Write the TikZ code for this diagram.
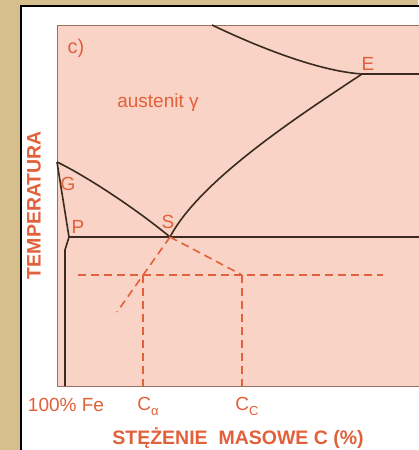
\documentclass[tikz,border=0pt]{standalone}
\usepackage{fontspec}
\setmainfont{Liberation Sans}
\definecolor{tan}{HTML}{D6BF8C}
\definecolor{pinkbg}{HTML}{F9D3C5}
\definecolor{curve}{HTML}{3B2A22}
\definecolor{lab}{HTML}{E2603A}
\definecolor{frame}{HTML}{9A7060}
\tikzset{
  phase/.style={draw=curve, line width=1.6pt},
  guide/.style={draw=lab, line width=1.6pt, dash pattern=on 8pt off 5pt},
  lbl/.style={text=lab, font=\fontsize{19}{21}\selectfont, inner sep=0pt},
  axislbl/.style={text=lab, font=\fontsize{19.5}{21}\selectfont\bfseries, inner sep=0pt},
}
\begin{document}
\begin{tikzpicture}[x=1pt,y=-1pt]
\useasboundingbox (0,0) rectangle (418,450);
\fill[tan] (0,0) rectangle (418,450);
\fill[white] (21,6) rectangle (420,452);
\draw[black, line width=2pt] (21,452) -- (21,6) -- (420,6);
\fill[pinkbg] (57,25) rectangle (420,386);
\draw[frame, line width=0.9pt] (420,25) -- (57,25) -- (57,386) -- (420,386);
% key points
\coordinate (T) at (212,25);
\coordinate (E) at (362,74);
\coordinate (Er) at (420,74);
\coordinate (S) at (170,237);
\coordinate (G) at (57,162);
\coordinate (P) at (69,237);
\coordinate (Pk) at (65,250);
\coordinate (Pb) at (65,386);
\coordinate (Sr) at (420,237);
% phase lines
\draw[phase] (T) .. controls (258,47) and (318,71) .. (E) -- (Er);
\draw[phase] (E) .. controls (300,115) and (200,180) .. (S);
\draw[phase] (G) .. controls (90,178) and (140,212) .. (S);
\draw[phase] (G) -- (P) -- (Pk) -- (Pb);
\draw[phase] (P) -- (Sr);
% dashed guides
\coordinate (Hl) at (78,275);
\coordinate (Hr) at (383,275);
\coordinate (A) at (143,275);
\coordinate (C) at (242,275);
\coordinate (Ae) at (117,312);
\coordinate (Ab) at (143,386);
\coordinate (Cb) at (242,386);
\draw[guide] (Hl) -- (Hr);
\draw[guide] (S) -- (Ae);
\draw[guide] (S) -- (C);
\draw[guide] (A) -- (Ab);
\draw[guide] (C) -- (Cb);
% labels
\node[lbl, font=\fontsize{20}{22}\selectfont] (lc) at (76,48) {c)};
\node[lbl] (lE) at (368,64) {E};
\node[lbl] (laus) at (158,103) {austenit γ};
\node[lbl] (lG) at (68,184) {G};
\node[lbl] (lP) at (78,227) {P};
\node[lbl] (lS) at (168,222) {S};
\node[lbl] (lfe) at (66,405) {100\% Fe};
\node[lbl] (lca) at (148,406) {C\raisebox{-0.5ex}{\fontsize{13}{14}\selectfont α}};
\node[lbl] (lcc) at (247,406) {C\raisebox{-0.5ex}{\fontsize{13}{14}\selectfont C}};
\node[axislbl] (lx) at (238,438) {STĘŻENIE\ \ MASOWE C (\%)};
\node[axislbl, rotate=90] (ly) at (34,205) {TEMPERATURA};
\end{tikzpicture}
\end{document}
